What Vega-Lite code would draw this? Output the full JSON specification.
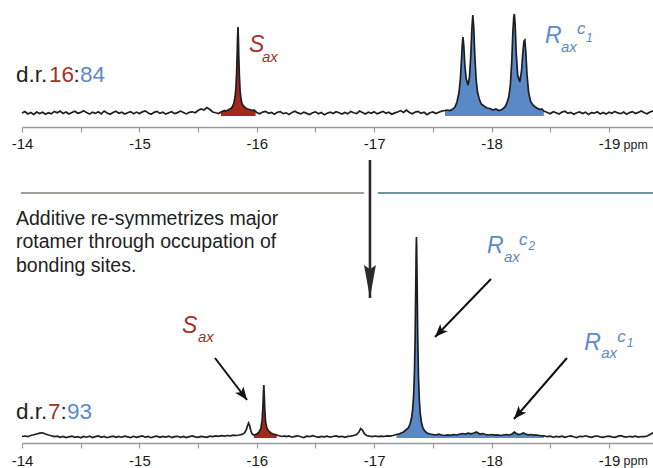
{
  "$schema": "https://vega.github.io/schema/vega-lite/v6.json",
  "padding": {"left": 11, "top": 5, "right": 0, "bottom": 0},
  "spacing": 4,
  "config": {"view": {"stroke": null}, "font": "Liberation Sans", "axis": {"grid": false}},
  "datasets": {
    "top": [
      {"p":-14.000,"i":0},{"p":-14.025,"i":1.5},{"p":-14.050,"i":-1},{"p":-14.075,"i":0.5},{"p":-14.100,"i":-1.5},{"p":-14.125,"i":1},{"p":-14.150,"i":-0.5},{"p":-14.175,"i":0.8},{"p":-14.200,"i":-1.2},{"p":-14.225,"i":0.3},{"p":-14.250,"i":-0.8},{"p":-14.275,"i":1.6},{"p":-14.300,"i":0.2},{"p":-14.325,"i":2},{"p":-14.350,"i":-0.6},{"p":-14.375,"i":0.9},{"p":-14.400,"i":-1},{"p":-14.425,"i":0.4},{"p":-14.450,"i":1.8},{"p":-14.475,"i":-0.3},{"p":-14.500,"i":0.6},{"p":-14.525,"i":2.2},{"p":-14.550,"i":0.4},{"p":-14.575,"i":-1.1},{"p":-14.600,"i":0.7},{"p":-14.625,"i":-0.4},{"p":-14.650,"i":1.2},{"p":-14.675,"i":-0.9},{"p":-14.700,"i":2},{"p":-14.725,"i":0.1},{"p":-14.750,"i":-1.3},{"p":-14.775,"i":0.5},{"p":-14.800,"i":1.7},{"p":-14.825,"i":-0.2},{"p":-14.850,"i":0.8},{"p":-14.875,"i":-1},{"p":-14.900,"i":0.3},{"p":-14.925,"i":1.4},{"p":-14.950,"i":-0.7},{"p":-14.975,"i":0.9},{"p":-15.000,"i":-0.5},{"p":-15.025,"i":1.1},{"p":-15.050,"i":2.1},{"p":-15.075,"i":0},{"p":-15.100,"i":-1.2},{"p":-15.125,"i":0.6},{"p":-15.150,"i":1.5},{"p":-15.175,"i":-0.4},{"p":-15.200,"i":0.8},{"p":-15.225,"i":-1.1},{"p":-15.250,"i":0.2},{"p":-15.275,"i":1.3},{"p":-15.300,"i":-0.6},{"p":-15.325,"i":0.4},{"p":-15.350,"i":1.9},{"p":-15.375,"i":0.5},{"p":-15.400,"i":-0.9},{"p":-15.425,"i":0.7},{"p":-15.450,"i":1.2},{"p":-15.475,"i":0.3},{"p":-15.500,"i":2.5},{"p":-15.525,"i":4},{"p":-15.550,"i":3},{"p":-15.575,"i":5.5},{"p":-15.600,"i":3.5},{"p":-15.625,"i":1},{"p":-15.650,"i":0.2},{"p":-15.675,"i":-0.5},{"p":-15.695,"i":1},
      {"p":-15.710,"i":1.8},{"p":-15.725,"i":2.5},{"p":-15.740,"i":2},{"p":-15.755,"i":3},{"p":-15.770,"i":4},{"p":-15.785,"i":5},{"p":-15.795,"i":7},{"p":-15.805,"i":10},{"p":-15.815,"i":16},{"p":-15.822,"i":25},{"p":-15.828,"i":40},{"p":-15.833,"i":60},{"p":-15.837,"i":78},{"p":-15.840,"i":86},{"p":-15.843,"i":76},{"p":-15.847,"i":55},{"p":-15.852,"i":36},{"p":-15.858,"i":22},{"p":-15.865,"i":14},{"p":-15.875,"i":9},{"p":-15.890,"i":6.5},{"p":-15.905,"i":5},{"p":-15.920,"i":4},{"p":-15.940,"i":3.5},{"p":-15.960,"i":2.5},{"p":-15.975,"i":3},{"p":-15.990,"i":1.5},
      {"p":-16.000,"i":0.5},{"p":-16.025,"i":-0.8},{"p":-16.050,"i":0.9},{"p":-16.075,"i":1.6},{"p":-16.100,"i":-0.3},{"p":-16.125,"i":0.5},{"p":-16.150,"i":-1.2},{"p":-16.175,"i":0.8},{"p":-16.200,"i":1.4},{"p":-16.225,"i":-0.6},{"p":-16.250,"i":0.2},{"p":-16.275,"i":-1.4},{"p":-16.300,"i":0.6},{"p":-16.325,"i":1.8},{"p":-16.350,"i":0.1},{"p":-16.375,"i":-0.9},{"p":-16.400,"i":0.7},{"p":-16.425,"i":-0.4},{"p":-16.450,"i":-1.5},{"p":-16.475,"i":0.3},{"p":-16.500,"i":1.1},{"p":-16.525,"i":-0.7},{"p":-16.550,"i":0.5},{"p":-16.575,"i":-1.8},{"p":-16.600,"i":-0.3},{"p":-16.625,"i":0.9},{"p":-16.650,"i":-0.5},{"p":-16.675,"i":1.3},{"p":-16.700,"i":0.2},{"p":-16.725,"i":-1.1},{"p":-16.750,"i":0.6},{"p":-16.775,"i":-0.8},{"p":-16.800,"i":1.5},{"p":-16.825,"i":0.3},{"p":-16.850,"i":-0.6},{"p":-16.875,"i":1.9},{"p":-16.900,"i":0.4},{"p":-16.925,"i":-1},{"p":-16.950,"i":0.7},{"p":-16.975,"i":-0.3},{"p":-17.000,"i":1.2},{"p":-17.025,"i":-0.9},{"p":-17.050,"i":0.4},{"p":-17.075,"i":1.6},{"p":-17.100,"i":-0.2},{"p":-17.125,"i":0.8},{"p":-17.150,"i":-1.3},{"p":-17.175,"i":0.1},{"p":-17.200,"i":1},{"p":-17.225,"i":2.4},{"p":-17.250,"i":0.6},{"p":-17.275,"i":3},{"p":-17.300,"i":0.5},{"p":-17.325,"i":-0.8},{"p":-17.350,"i":0.9},{"p":-17.375,"i":1.5},{"p":-17.400,"i":-0.4},{"p":-17.425,"i":0.7},{"p":-17.450,"i":-1.6},{"p":-17.475,"i":0.3},{"p":-17.500,"i":1.1},{"p":-17.525,"i":-0.5},{"p":-17.550,"i":0.8},{"p":-17.575,"i":1.9},
      {"p":-17.603,"i":2.5},{"p":-17.620,"i":3},{"p":-17.646,"i":2.5},{"p":-17.671,"i":4},{"p":-17.688,"i":6},{"p":-17.705,"i":11},{"p":-17.722,"i":20},{"p":-17.734,"i":34},{"p":-17.743,"i":52},{"p":-17.750,"i":68},{"p":-17.756,"i":76},{"p":-17.763,"i":68},{"p":-17.772,"i":48},{"p":-17.784,"i":34},{"p":-17.799,"i":28},{"p":-17.812,"i":36},{"p":-17.823,"i":58},{"p":-17.832,"i":84},{"p":-17.840,"i":98},{"p":-17.848,"i":86},{"p":-17.857,"i":58},{"p":-17.868,"i":34},{"p":-17.880,"i":21},{"p":-17.895,"i":14},{"p":-17.912,"i":9},{"p":-17.935,"i":7},{"p":-17.961,"i":5},{"p":-17.986,"i":4.5},{"p":-18.012,"i":3},{"p":-18.037,"i":4},{"p":-18.063,"i":2.5},{"p":-18.089,"i":3.5},{"p":-18.114,"i":6},{"p":-18.131,"i":10},{"p":-18.146,"i":16},{"p":-18.160,"i":28},{"p":-18.172,"i":52},{"p":-18.181,"i":80},{"p":-18.189,"i":96},{"p":-18.194,"i":99},{"p":-18.201,"i":88},{"p":-18.210,"i":60},{"p":-18.222,"i":38},{"p":-18.240,"i":31},{"p":-18.255,"i":42},{"p":-18.266,"i":60},{"p":-18.276,"i":72},{"p":-18.283,"i":73},{"p":-18.291,"i":62},{"p":-18.302,"i":38},{"p":-18.316,"i":20},{"p":-18.334,"i":11},{"p":-18.360,"i":7},{"p":-18.386,"i":5},{"p":-18.411,"i":3.5},{"p":-18.428,"i":4},{"p":-18.445,"i":2},
      {"p":-18.475,"i":0.5},{"p":-18.500,"i":-0.8},{"p":-18.525,"i":1.2},{"p":-18.550,"i":0.3},{"p":-18.575,"i":-1},{"p":-18.600,"i":0.9},{"p":-18.625,"i":1.7},{"p":-18.650,"i":-0.4},{"p":-18.675,"i":0.6},{"p":-18.700,"i":-1.3},{"p":-18.725,"i":0.2},{"p":-18.750,"i":1.1},{"p":-18.775,"i":-0.6},{"p":-18.800,"i":0.8},{"p":-18.825,"i":-1.5},{"p":-18.850,"i":0.4},{"p":-18.875,"i":-0.2},{"p":-18.900,"i":1.3},{"p":-18.925,"i":-0.9},{"p":-18.950,"i":0.5},{"p":-18.975,"i":-1.1},{"p":-19.000,"i":0.7},{"p":-19.025,"i":-0.3},{"p":-19.050,"i":1.6},{"p":-19.075,"i":0.1},{"p":-19.100,"i":-0.7},{"p":-19.125,"i":0.9},{"p":-19.150,"i":-1.2},{"p":-19.175,"i":0.4},{"p":-19.200,"i":1.4},{"p":-19.225,"i":-0.5},{"p":-19.250,"i":0.6},{"p":-19.275,"i":2},{"p":-19.300,"i":0.3},{"p":-19.325,"i":-0.8},{"p":-19.350,"i":1},{"p":-19.375,"i":2.2},{"p":-19.392,"i":0.5}
    ],
    "bot": [
      {"p":-14.000,"i":0.5},{"p":-14.025,"i":1},{"p":-14.050,"i":0.3},{"p":-14.075,"i":1.5},{"p":-14.100,"i":2.2},{"p":-14.125,"i":3},{"p":-14.150,"i":3.8},{"p":-14.175,"i":4.2},{"p":-14.200,"i":3},{"p":-14.225,"i":2},{"p":-14.250,"i":1.2},{"p":-14.275,"i":0.4},{"p":-14.300,"i":0.9},{"p":-14.325,"i":-0.3},{"p":-14.350,"i":0.5},{"p":-14.375,"i":-0.6},{"p":-14.400,"i":0.2},{"p":-14.425,"i":0.8},{"p":-14.450,"i":-0.4},{"p":-14.475,"i":0.3},{"p":-14.500,"i":-0.8},{"p":-14.525,"i":0.6},{"p":-14.550,"i":-0.2},{"p":-14.575,"i":0.9},{"p":-14.600,"i":-0.5},{"p":-14.625,"i":0.4},{"p":-14.650,"i":1},{"p":-14.675,"i":-0.3},{"p":-14.700,"i":0.5},{"p":-14.725,"i":-0.7},{"p":-14.750,"i":0.2},{"p":-14.775,"i":0.8},{"p":-14.800,"i":-0.4},{"p":-14.825,"i":0.6},{"p":-14.850,"i":-0.2},{"p":-14.875,"i":0.9},{"p":-14.900,"i":0.1},{"p":-14.925,"i":-0.6},{"p":-14.950,"i":0.7},{"p":-14.975,"i":-0.3},{"p":-15.000,"i":0.4},{"p":-15.025,"i":1},{"p":-15.050,"i":-0.2},{"p":-15.075,"i":0.5},{"p":-15.100,"i":-0.7},{"p":-15.125,"i":0.3},{"p":-15.150,"i":0.8},{"p":-15.175,"i":-0.4},{"p":-15.200,"i":0.6},{"p":-15.225,"i":-0.1},{"p":-15.250,"i":0.9},{"p":-15.275,"i":-0.5},{"p":-15.300,"i":0.3},{"p":-15.325,"i":0.7},{"p":-15.350,"i":-0.3},{"p":-15.375,"i":0.5},{"p":-15.400,"i":-0.6},{"p":-15.425,"i":0.4},{"p":-15.450,"i":1},{"p":-15.475,"i":0.1},{"p":-15.500,"i":-0.4},{"p":-15.525,"i":0.6},{"p":-15.550,"i":0.2},{"p":-15.575,"i":-0.3},{"p":-15.600,"i":0.8},{"p":-15.625,"i":0.4},{"p":-15.650,"i":1.1},{"p":-15.675,"i":0.6},{"p":-15.700,"i":1.3},{"p":-15.725,"i":0.9},{"p":-15.750,"i":1.5},{"p":-15.775,"i":1.2},{"p":-15.800,"i":1.8},{"p":-15.825,"i":1.5},{"p":-15.850,"i":2},{"p":-15.875,"i":2.6},{"p":-15.895,"i":4},{"p":-15.910,"i":7},{"p":-15.920,"i":11},{"p":-15.930,"i":14},{"p":-15.940,"i":11},{"p":-15.950,"i":6},{"p":-15.960,"i":3},{"p":-15.976,"i":2},
      {"p":-15.990,"i":2.5},{"p":-16.005,"i":3.5},{"p":-16.020,"i":5},{"p":-16.035,"i":9},{"p":-16.045,"i":16},{"p":-16.052,"i":30},{"p":-16.057,"i":45},{"p":-16.060,"i":52},{"p":-16.063,"i":44},{"p":-16.068,"i":28},{"p":-16.075,"i":15},{"p":-16.085,"i":9},{"p":-16.100,"i":6},{"p":-16.120,"i":4},{"p":-16.140,"i":3},{"p":-16.155,"i":2.5},{"p":-16.170,"i":2},
      {"p":-16.190,"i":1.2},{"p":-16.215,"i":0.5},{"p":-16.240,"i":1},{"p":-16.250,"i":0.3},{"p":-16.275,"i":1},{"p":-16.300,"i":-0.2},{"p":-16.325,"i":0.6},{"p":-16.350,"i":1.2},{"p":-16.375,"i":0.2},{"p":-16.400,"i":-0.5},{"p":-16.425,"i":0.8},{"p":-16.450,"i":0.3},{"p":-16.475,"i":1.4},{"p":-16.500,"i":0.5},{"p":-16.525,"i":-0.3},{"p":-16.550,"i":0.6},{"p":-16.575,"i":0.1},{"p":-16.600,"i":0.9},{"p":-16.625,"i":-0.2},{"p":-16.650,"i":0.5},{"p":-16.675,"i":1.1},{"p":-16.700,"i":0.2},{"p":-16.725,"i":0.7},{"p":-16.750,"i":-0.4},{"p":-16.775,"i":0.6},{"p":-16.800,"i":0.9},{"p":-16.825,"i":1.5},{"p":-16.850,"i":2.5},{"p":-16.870,"i":5},{"p":-16.885,"i":8.5},{"p":-16.900,"i":7},{"p":-16.915,"i":3.5},{"p":-16.935,"i":1.5},{"p":-16.960,"i":0.8},{"p":-16.985,"i":0.3},{"p":-17.010,"i":1},{"p":-17.035,"i":0.4},{"p":-17.060,"i":0.9},{"p":-17.085,"i":0.5},{"p":-17.110,"i":1.2},{"p":-17.135,"i":0.8},{"p":-17.160,"i":1.5},
      {"p":-17.190,"i":2.5},{"p":-17.210,"i":3},{"p":-17.230,"i":4},{"p":-17.250,"i":5},{"p":-17.270,"i":7},{"p":-17.290,"i":9},{"p":-17.305,"i":13},{"p":-17.318,"i":19},{"p":-17.328,"i":28},{"p":-17.336,"i":42},{"p":-17.343,"i":65},{"p":-17.349,"i":100},{"p":-17.354,"i":150},{"p":-17.358,"i":190},{"p":-17.360,"i":200},{"p":-17.362,"i":190},{"p":-17.366,"i":150},{"p":-17.371,"i":100},{"p":-17.377,"i":62},{"p":-17.384,"i":38},{"p":-17.392,"i":24},{"p":-17.402,"i":15},{"p":-17.415,"i":9},{"p":-17.430,"i":6},{"p":-17.450,"i":4},{"p":-17.475,"i":3},{"p":-17.500,"i":2.5},{"p":-17.525,"i":2},{"p":-17.550,"i":2.8},{"p":-17.575,"i":2},{"p":-17.600,"i":1.5},{"p":-17.625,"i":2.2},{"p":-17.650,"i":1.6},{"p":-17.675,"i":2.5},{"p":-17.700,"i":2},{"p":-17.725,"i":2.8},{"p":-17.750,"i":3.5},{"p":-17.775,"i":3},{"p":-17.800,"i":3.8},{"p":-17.825,"i":3.2},{"p":-17.850,"i":4},{"p":-17.870,"i":5},{"p":-17.885,"i":4},{"p":-17.900,"i":3},{"p":-17.925,"i":3.5},{"p":-17.950,"i":2.5},{"p":-17.975,"i":2},{"p":-18.000,"i":2.5},{"p":-18.025,"i":1.8},{"p":-18.050,"i":2.2},{"p":-18.075,"i":1.5},{"p":-18.100,"i":2},{"p":-18.125,"i":2.5},{"p":-18.150,"i":2},{"p":-18.175,"i":3},{"p":-18.195,"i":5},{"p":-18.210,"i":3.5},{"p":-18.230,"i":2.5},{"p":-18.250,"i":3},{"p":-18.270,"i":4},{"p":-18.290,"i":3},{"p":-18.310,"i":2.2},{"p":-18.335,"i":2.5},{"p":-18.360,"i":1.8},{"p":-18.385,"i":2},{"p":-18.410,"i":1.5},{"p":-18.445,"i":1.2},
      {"p":-18.475,"i":0.3},{"p":-18.500,"i":0.9},{"p":-18.525,"i":-0.2},{"p":-18.550,"i":0.6},{"p":-18.575,"i":0.1},{"p":-18.600,"i":0.8},{"p":-18.625,"i":-0.4},{"p":-18.650,"i":0.5},{"p":-18.675,"i":1.1},{"p":-18.700,"i":0.2},{"p":-18.725,"i":-0.5},{"p":-18.750,"i":0.7},{"p":-18.775,"i":0.3},{"p":-18.800,"i":1.2},{"p":-18.825,"i":0.4},{"p":-18.850,"i":-0.3},{"p":-18.875,"i":0.6},{"p":-18.900,"i":1},{"p":-18.925,"i":0.2},{"p":-18.950,"i":-0.4},{"p":-18.975,"i":0.5},{"p":-19.000,"i":0.9},{"p":-19.025,"i":0.1},{"p":-19.050,"i":-0.3},{"p":-19.075,"i":0.6},{"p":-19.100,"i":1.3},{"p":-19.125,"i":0.4},{"p":-19.150,"i":-0.2},{"p":-19.175,"i":0.7},{"p":-19.200,"i":0.2},{"p":-19.225,"i":0.9},{"p":-19.250,"i":-0.1},{"p":-19.275,"i":0.5},{"p":-19.300,"i":0.3},{"p":-19.325,"i":1},{"p":-19.350,"i":2.5},{"p":-19.370,"i":4},{"p":-19.392,"i":1.5}
    ],
    "labTop": [
      {"p":-13.949,"i":31,"t":"d.r.","g":"n","k":"ratio"},
      {"p":-14.230,"i":31,"t":"16","g":"S","k":"ratio"},
      {"p":-14.4387,"i":31,"t":":","g":"n","k":"ratio"},
      {"p":-14.494,"i":31,"t":"84","g":"R","k":"ratio"},
      {"p":-15.934,"i":61,"t":"S","g":"S","k":"big"},
      {"p":-16.044,"i":51,"t":"ax","g":"S","k":"sub"},
      {"p":-18.455,"i":70,"t":"R","g":"R","k":"big"},
      {"p":-18.591,"i":61,"t":"ax","g":"R","k":"sub"},
      {"p":-18.727,"i":79,"t":"c","g":"R","k":"sup"},
      {"p":-18.805,"i":71,"t":"1","g":"R","k":"sup2"}
    ],
    "labBot": [
      {"p":-13.949,"i":18,"t":"d.r.","g":"n","k":"ratio"},
      {"p":-14.2215,"i":18,"t":"7","g":"S","k":"ratio"},
      {"p":-14.328,"i":18,"t":":","g":"n","k":"ratio"},
      {"p":-14.383,"i":18,"t":"93","g":"R","k":"ratio"},
      {"p":-15.363,"i":104,"t":"S","g":"S","k":"big"},
      {"p":-15.499,"i":95,"t":"ax","g":"S","k":"sub"},
      {"p":-17.961,"i":184,"t":"R","g":"R","k":"big"},
      {"p":-18.106,"i":175,"t":"ax","g":"R","k":"sub"},
      {"p":-18.233,"i":192,"t":"c","g":"R","k":"sup"},
      {"p":-18.315,"i":187,"t":"2","g":"R","k":"sup2"},
      {"p":-18.790,"i":87,"t":"R","g":"R","k":"big"},
      {"p":-18.934,"i":79,"t":"ax","g":"R","k":"sub"},
      {"p":-19.071,"i":95,"t":"c","g":"R","k":"sup"},
      {"p":-19.152,"i":90,"t":"1","g":"R","k":"sup2"},
      {"p":-13.949,"i":212,"t":"Additive re-symmetrizes major","g":"n","k":"note"},
      {"p":-13.949,"i":189,"t":"rotamer through occupation of","g":"n","k":"note"},
      {"p":-13.949,"i":165,"t":"bonding sites.","g":"n","k":"note"}
    ],
    "arrows": [
      {"id":"v","p":-16.964,"i":277,"p2":-16.964,"i2":139},
      {"id":"c2","p":-17.995,"i":158,"p2":-17.518,"i2":100},
      {"id":"c1","p":-18.642,"i":79,"p2":-18.191,"i2":18},
      {"id":"s","p":-15.644,"i":79,"p2":-15.917,"i2":37}
    ],
    "seps": [
      {"side":"S","p":-13.991,"p2":-16.913,"i":244},
      {"side":"R","p":-17.032,"p2":-19.392,"i":244}
    ]
  },
  "vconcat": [
    {
      "width": 633,
      "height": 122,
      "encoding": {
        "x": {"field": "p", "type": "quantitative", "title": "ppm",
          "scale": {"domain": [-19.392, -14], "reverse": true, "nice": false, "zero": false},
          "axis": {"values": [-14,-14.5,-15,-15.5,-16,-16.5,-17,-17.5,-18,-18.5,-19],
            "labelExpr": "datum.value % 1 === 0 ? '-' + abs(datum.value) : ''",
            "labelFontSize": 15, "labelColor": "#1a1a1a", "labelPadding": 4, "labelFlush": false, "labelOverlap": false,
            "tickSize": 5, "tickColor": "#9a9a9a", "tickWidth": 1.2, "domainColor": "#9a9a9a", "domainWidth": 1.5,
            "titleFontSize": 12.5, "titleFontWeight": "normal", "titleColor": "#222", "titleAlign": "left", "titleBaseline": "alphabetic", "titleX": 601, "titleY": 21, "titleAngle": 0}},
        "y": {"field": "i", "type": "quantitative", "scale": {"domain": [-14, 108], "nice": false, "zero": false}, "axis": null}
      },
      "layer": [
        {"data": {"name": "top"}, "transform": [{"filter": "datum.p <= -15.69 && datum.p >= -15.995"}],
          "mark": {"type": "area", "color": "#a3291f", "opacity": 1}, "encoding": {"y2": {"datum": -3}}},
        {"data": {"name": "top"}, "transform": [{"filter": "datum.p <= -17.6 && datum.p >= -18.45"}],
          "mark": {"type": "area", "color": "#5b88c6", "opacity": 1}, "encoding": {"y2": {"datum": -3}}},
        {"data": {"name": "top"}, "mark": {"type": "line", "color": "#1e1e1e", "strokeWidth": 1.7}, "encoding": {}},
        {"data": {"name": "labTop"}, "transform": [{"filter": "datum.k == 'ratio'"}],
          "mark": {"type": "text", "align": "left", "baseline": "alphabetic", "fontSize": 22.5},
          "encoding": {"text": {"field": "t"}, "color": {"field": "g", "type": "nominal", "scale": {"domain": ["n","S","R"], "range": ["#222222","#a3322b","#5b8ac6"]}, "legend": null}}},
        {"data": {"name": "labTop"}, "transform": [{"filter": "datum.k == 'big'"}],
          "mark": {"type": "text", "align": "left", "baseline": "alphabetic", "fontSize": 23, "fontStyle": "italic"},
          "encoding": {"text": {"field": "t"}, "color": {"field": "g", "type": "nominal", "scale": {"domain": ["n","S","R"], "range": ["#222222","#a3322b","#5b8ac6"]}, "legend": null}}},
        {"data": {"name": "labTop"}, "transform": [{"filter": "datum.k == 'sub'"}],
          "mark": {"type": "text", "align": "left", "baseline": "alphabetic", "fontSize": 15, "fontStyle": "italic"},
          "encoding": {"text": {"field": "t"}, "color": {"field": "g", "type": "nominal", "scale": {"domain": ["n","S","R"], "range": ["#222222","#a3322b","#5b8ac6"]}, "legend": null}}},
        {"data": {"name": "labTop"}, "transform": [{"filter": "datum.k == 'sup'"}],
          "mark": {"type": "text", "align": "left", "baseline": "alphabetic", "fontSize": 17, "fontStyle": "italic"},
          "encoding": {"text": {"field": "t"}, "color": {"field": "g", "type": "nominal", "scale": {"domain": ["n","S","R"], "range": ["#222222","#a3322b","#5b8ac6"]}, "legend": null}}},
        {"data": {"name": "labTop"}, "transform": [{"filter": "datum.k == 'sup2'"}],
          "mark": {"type": "text", "align": "left", "baseline": "alphabetic", "fontSize": 12, "fontStyle": "italic"},
          "encoding": {"text": {"field": "t"}, "color": {"field": "g", "type": "nominal", "scale": {"domain": ["n","S","R"], "range": ["#222222","#a3322b","#5b8ac6"]}, "legend": null}}}
      ]
    },
    {
      "width": 633,
      "height": 288,
      "encoding": {
        "x": {"field": "p", "type": "quantitative", "title": "ppm",
          "scale": {"domain": [-19.392, -14], "reverse": true, "nice": false, "zero": false},
          "axis": {"values": [-14,-14.5,-15,-15.5,-16,-16.5,-17,-17.5,-18,-18.5,-19],
            "labelExpr": "datum.value % 1 === 0 ? '-' + abs(datum.value) : ''",
            "labelFontSize": 15, "labelColor": "#1a1a1a", "labelPadding": 5, "labelFlush": false, "labelOverlap": false,
            "tickSize": 5, "tickColor": "#9a9a9a", "tickWidth": 1.2, "domainColor": "#9a9a9a", "domainWidth": 1.5,
            "titleFontSize": 12.5, "titleFontWeight": "normal", "titleColor": "#222", "titleAlign": "left", "titleBaseline": "alphabetic", "titleX": 601, "titleY": 21.5, "titleAngle": 0}},
        "y": {"field": "i", "type": "quantitative", "scale": {"domain": [-6, 282], "nice": false, "zero": false}, "axis": null}
      },
      "layer": [
        {"data": {"name": "seps"}, "transform": [{"filter": "datum.side == 'S'"}],
          "mark": {"type": "rule", "color": "#a59d97", "strokeWidth": 2}, "encoding": {"x2": {"field": "p2"}}},
        {"data": {"name": "seps"}, "transform": [{"filter": "datum.side == 'R'"}],
          "mark": {"type": "rule", "color": "#7494a2", "strokeWidth": 2}, "encoding": {"x2": {"field": "p2"}}},
        {"data": {"name": "bot"}, "transform": [{"filter": "datum.p <= -15.975 && datum.p >= -16.171"}],
          "mark": {"type": "area", "color": "#a3291f", "opacity": 1}, "encoding": {"y2": {"datum": -1}}},
        {"data": {"name": "bot"}, "transform": [{"filter": "datum.p <= -17.189 && datum.p >= -18.446"}],
          "mark": {"type": "area", "color": "#5b88c6", "opacity": 1}, "encoding": {"y2": {"datum": -1}}},
        {"data": {"name": "bot"}, "mark": {"type": "line", "color": "#1e1e1e", "strokeWidth": 1.7}, "encoding": {}},
        {"data": {"name": "arrows"}, "transform": [{"filter": "datum.id == 'v'"}],
          "mark": {"type": "rule", "color": "#2a2a2a", "strokeWidth": 2.6}, "encoding": {"x2": {"field": "p2"}, "y2": {"field": "i2"}}},
        {"data": {"name": "arrows"}, "transform": [{"filter": "datum.id != 'v'"}],
          "mark": {"type": "rule", "color": "#111111", "strokeWidth": 2}, "encoding": {"x2": {"field": "p2"}, "y2": {"field": "i2"}}},
        {"data": {"name": "arrows"}, "transform": [{"filter": "datum.id == 'v'"}],
          "mark": {"type": "point", "shape": "M0,0 L-0.36,-2 L0,-1.75 L0.36,-2 Z", "size": 1089, "filled": true, "opacity": 1, "color": "#2a2a2a", "angle": 0},
          "encoding": {"x": {"field": "p2", "type": "quantitative"}, "y": {"field": "i2", "type": "quantitative"}}},
        {"data": {"name": "arrows"}, "transform": [{"filter": "datum.id == 'c2'"}],
          "mark": {"type": "point", "shape": "M0,0 L-0.8,-2 L0,-1.5 L0.8,-2 Z", "size": 169, "filled": true, "opacity": 1, "color": "#111111", "angle": 44},
          "encoding": {"x": {"field": "p2", "type": "quantitative"}, "y": {"field": "i2", "type": "quantitative"}}},
        {"data": {"name": "arrows"}, "transform": [{"filter": "datum.id == 'c1'"}],
          "mark": {"type": "point", "shape": "M0,0 L-0.8,-2 L0,-1.5 L0.8,-2 Z", "size": 169, "filled": true, "opacity": 1, "color": "#111111", "angle": 41},
          "encoding": {"x": {"field": "p2", "type": "quantitative"}, "y": {"field": "i2", "type": "quantitative"}}},
        {"data": {"name": "arrows"}, "transform": [{"filter": "datum.id == 's'"}],
          "mark": {"type": "point", "shape": "M0,0 L-0.8,-2 L0,-1.5 L0.8,-2 Z", "size": 169, "filled": true, "opacity": 1, "color": "#111111", "angle": -37},
          "encoding": {"x": {"field": "p2", "type": "quantitative"}, "y": {"field": "i2", "type": "quantitative"}}},
        {"data": {"name": "labBot"}, "transform": [{"filter": "datum.k == 'ratio'"}],
          "mark": {"type": "text", "align": "left", "baseline": "alphabetic", "fontSize": 22.5},
          "encoding": {"text": {"field": "t"}, "color": {"field": "g", "type": "nominal", "scale": {"domain": ["n","S","R"], "range": ["#222222","#a3322b","#5b8ac6"]}, "legend": null}}},
        {"data": {"name": "labBot"}, "transform": [{"filter": "datum.k == 'note'"}],
          "mark": {"type": "text", "align": "left", "baseline": "alphabetic", "fontSize": 19.5},
          "encoding": {"text": {"field": "t"}, "color": {"field": "g", "type": "nominal", "scale": {"domain": ["n","S","R"], "range": ["#222222","#a3322b","#5b8ac6"]}, "legend": null}}},
        {"data": {"name": "labBot"}, "transform": [{"filter": "datum.k == 'big'"}],
          "mark": {"type": "text", "align": "left", "baseline": "alphabetic", "fontSize": 23, "fontStyle": "italic"},
          "encoding": {"text": {"field": "t"}, "color": {"field": "g", "type": "nominal", "scale": {"domain": ["n","S","R"], "range": ["#222222","#a3322b","#5b8ac6"]}, "legend": null}}},
        {"data": {"name": "labBot"}, "transform": [{"filter": "datum.k == 'sub'"}],
          "mark": {"type": "text", "align": "left", "baseline": "alphabetic", "fontSize": 15, "fontStyle": "italic"},
          "encoding": {"text": {"field": "t"}, "color": {"field": "g", "type": "nominal", "scale": {"domain": ["n","S","R"], "range": ["#222222","#a3322b","#5b8ac6"]}, "legend": null}}},
        {"data": {"name": "labBot"}, "transform": [{"filter": "datum.k == 'sup'"}],
          "mark": {"type": "text", "align": "left", "baseline": "alphabetic", "fontSize": 17, "fontStyle": "italic"},
          "encoding": {"text": {"field": "t"}, "color": {"field": "g", "type": "nominal", "scale": {"domain": ["n","S","R"], "range": ["#222222","#a3322b","#5b8ac6"]}, "legend": null}}},
        {"data": {"name": "labBot"}, "transform": [{"filter": "datum.k == 'sup2'"}],
          "mark": {"type": "text", "align": "left", "baseline": "alphabetic", "fontSize": 12, "fontStyle": "italic"},
          "encoding": {"text": {"field": "t"}, "color": {"field": "g", "type": "nominal", "scale": {"domain": ["n","S","R"], "range": ["#222222","#a3322b","#5b8ac6"]}, "legend": null}}}
      ]
    }
  ]
}
